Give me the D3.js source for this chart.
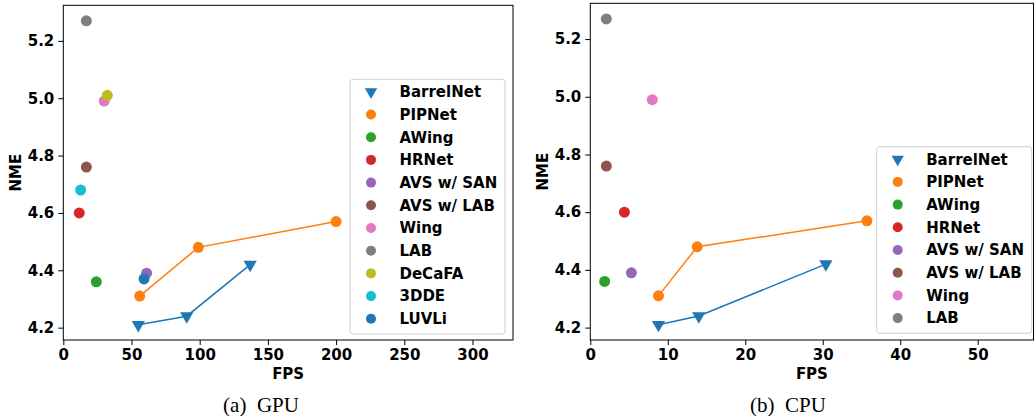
<!DOCTYPE html>
<html>
<head>
<meta charset="utf-8">
<script src="https://cdn.jsdelivr.net/npm/d3@7"></script>
<style>
  body { margin: 0; background: #fff; }
  svg text { font-family: "DejaVu Sans", sans-serif; font-weight: bold; }
  svg text.caption { font-family: "Liberation Serif", "Times New Roman", serif; font-weight: normal; }
</style>
</head>
<body>
<svg id="chart" width="1034" height="416"></svg>
<script>
// method names, in plotting order
const gpuMethods = ["BarrelNet", "PIPNet", "AWing", "HRNet", "AVS w/ SAN", "AVS w/ LAB", "Wing", "LAB", "DeCaFA", "3DDE", "LUVLi"];
const cpuMethods = ["BarrelNet", "PIPNet", "AWing", "HRNet", "AVS w/ SAN", "AVS w/ LAB", "Wing", "LAB"];
const methodColors = ["#1f77b4", "#ff7f0e", "#2ca02c", "#d62728", "#9467bd", "#8c564b", "#e377c2", "#7f7f7f", "#bcbd22", "#17becf", "#1f77b4"];

// GPU FPS / NME, one array per method
const gpuFps = [
  [55, 90.5, 137],
  [56, 99, 200],
  [24.2], [11.7], [61.1], [16.9], [30], [16.9], [32.3], [12.7], [59.2]
];
const gpuNme = [
  [4.21, 4.24, 4.42],
  [4.31, 4.48, 4.57],
  [4.36], [4.60], [4.39], [4.76], [4.99], [5.27], [5.01], [4.68], [4.37]
];

// CPU FPS / NME
const cpuFps = [
  [8.8, 14.0, 30.4],
  [8.8, 13.8, 35.7],
  [1.85], [4.4], [5.3], [2.07], [8.0], [2.07]
];
const cpuNme = [
  [4.21, 4.24, 4.42],
  [4.31, 4.48, 4.57],
  [4.36], [4.60], [4.39], [4.76], [4.99], [5.27]
];

const gpuTicksX = [0, 50, 100, 150, 200, 250, 300];
const cpuTicksX = [0, 10, 20, 30, 40, 50];
const nmeTicks = [4.2, 4.4, 4.6, 4.8, 5.0, 5.2];

const svg = d3.select("#chart");
const fontSize = 15;

const drawPanel = (opt) => {
    const g = svg.append("g");
    const x = d3.scaleLinear().domain(opt.xDomain).range([opt.left, opt.right]);
    const y = d3.scaleLinear().domain([4.157, 5.324]).range([opt.bottom, opt.top]);

    const tri = d3.symbol().type(d3.symbolTriangle).size(76);
    const triSmall = d3.symbol().type(d3.symbolTriangle).size(66);

    // series
    opt.methods.forEach((name, i) => {
        const pts = opt.fps[i].map((v, j) => [x(v), y(opt.nme[i][j])]);
        const color = methodColors[i];
        if (pts.length > 1) {
            g.append("path")
                .attr("d", d3.line()(pts))
                .attr("fill", "none")
                .attr("stroke", color)
                .attr("stroke-width", 1.5);
        }
        pts.forEach(p => {
            if (i === 0) {
                g.append("path")
                    .attr("d", tri())
                    .attr("transform", `translate(${p[0]},${p[1]}) rotate(180)`)
                    .attr("fill", color);
            } else {
                g.append("circle")
                    .attr("cx", p[0]).attr("cy", p[1]).attr("r", 5.5)
                    .attr("fill", color);
            }
        });
    });

    // axes
    g.append("g")
        .attr("transform", `translate(0,${opt.bottom})`)
        .call(d3.axisBottom(x).tickValues(opt.ticksX).tickSize(5).tickPadding(4).tickFormat(d3.format("d")))
        .call(a => a.select(".domain").remove())
        .call(a => a.selectAll("text").attr("font-size", fontSize).attr("fill", "#000"));

    g.append("g")
        .attr("transform", `translate(${opt.left},0)`)
        .call(d3.axisLeft(y).tickValues(nmeTicks).tickSize(5).tickPadding(4).tickFormat(d3.format(".1f")))
        .call(a => a.select(".domain").remove())
        .call(a => a.selectAll("text").attr("font-size", fontSize).attr("fill", "#000"));

    g.append("rect")
        .attr("x", opt.left).attr("y", opt.top)
        .attr("width", opt.right - opt.left).attr("height", opt.bottom - opt.top)
        .attr("fill", "none").attr("stroke", "#000").attr("stroke-width", 1);

    // axis labels
    g.append("text")
        .attr("x", (opt.left + opt.right) / 2).attr("y", 379)
        .attr("text-anchor", "middle").attr("font-size", fontSize)
        .text("FPS");
    g.append("text")
        .attr("transform", `translate(${opt.left - 42},${(opt.top + opt.bottom) / 2}) rotate(-90)`)
        .attr("text-anchor", "middle").attr("font-size", fontSize)
        .text("NME");

    // legend
    const lg = g.append("g");
    const rowH = 22.7;
    lg.append("rect")
        .attr("x", opt.legendX).attr("y", opt.legendY)
        .attr("width", 155).attr("height", rowH * opt.methods.length + 5)
        .attr("rx", 3)
        .attr("fill", "#fff").attr("fill-opacity", 0.8)
        .attr("stroke", "#d0d0d0").attr("stroke-width", 1);
    opt.methods.forEach((name, i) => {
        const cy = opt.legendY + 12.5 + i * rowH;
        const cx = opt.legendX + 21;
        if (i === 0) {
            lg.append("path")
                .attr("d", triSmall())
                .attr("transform", `translate(${cx},${cy}) rotate(180)`)
                .attr("fill", methodColors[i]);
        } else {
            lg.append("circle")
                .attr("cx", cx).attr("cy", cy).attr("r", 5)
                .attr("fill", methodColors[i]);
        }
        lg.append("text")
            .attr("x", opt.legendX + 49.5).attr("y", cy + 5.3)
            .attr("font-size", fontSize)
            .text(name);
    });

    // caption
    g.append("text")
        .attr("class", "caption")
        .attr("x", opt.captionX).attr("y", 412)
        .attr("text-anchor", "middle").attr("font-size", 21)
        .attr("xml:space", "preserve")
        .text(opt.caption);
};

drawPanel({
    methods: gpuMethods, fps: gpuFps, nme: gpuNme,
    xDomain: [0, 329.7], ticksX: gpuTicksX,
    left: 63.3, right: 513, top: 5.3, bottom: 340,
    legendX: 350, legendY: 79.3,
    caption: "(a)  GPU", captionX: 261
});

drawPanel({
    methods: cpuMethods, fps: cpuFps, nme: cpuNme,
    xDomain: [0, 57.2], ticksX: cpuTicksX,
    left: 590.3, right: 1033.5, top: 3.3, bottom: 340,
    legendX: 876.7, legendY: 146.7,
    caption: "(b)  CPU", captionX: 788
});
</script>
</body>
</html>
